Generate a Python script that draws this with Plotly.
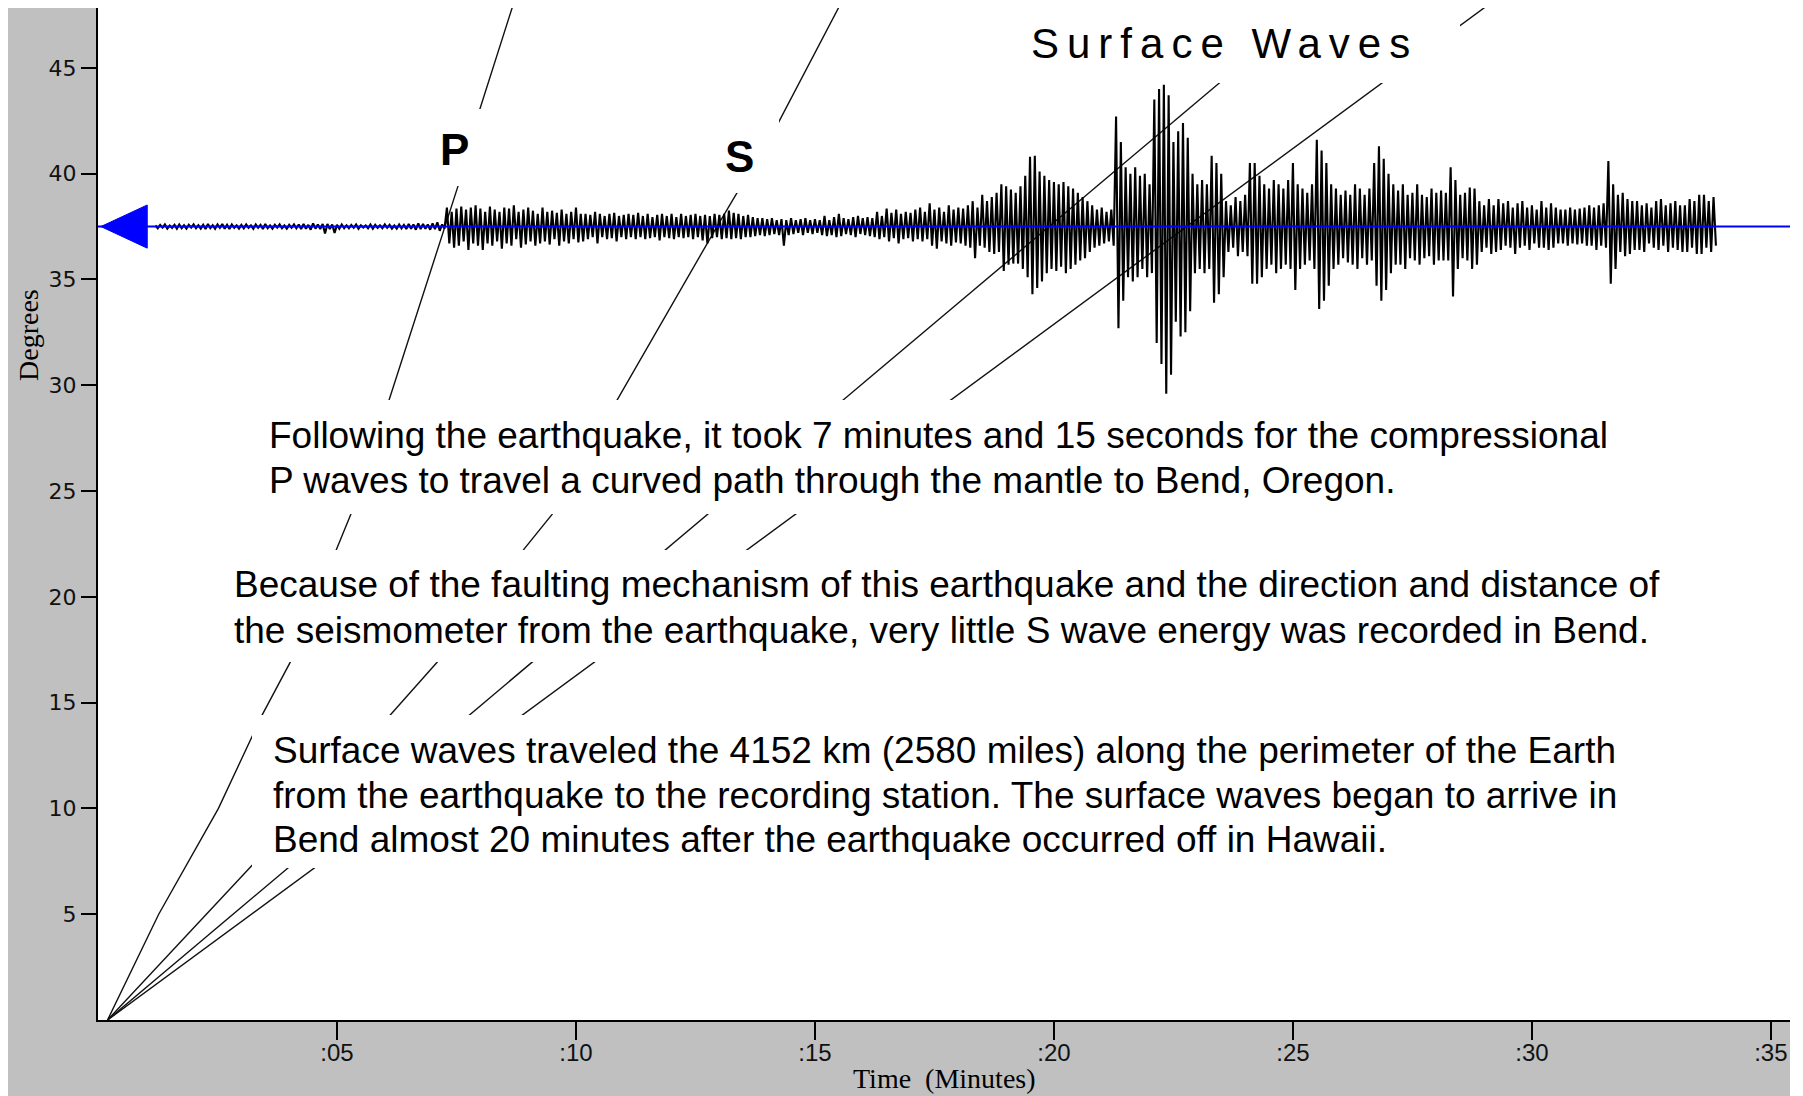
import plotly.graph_objects as go

# ---------------- data ----------------
station_distance_deg = 37.5          # Bend, Oregon distance from the epicentre
trace_start_min = 1.2
trace_step_min = 0.1
# seismogram, read per 0.1 min: upward swing and downward swing (degrees about the station line)
trace_peak = [
    0.05, 0.08, 0.1, 0.05, 0.08, 0.1, 0.06, 0.08, 0.1, 0.06,
    0.08, 0.12, 0.06, 0.1, 0.12, 0.08, 0.1, 0.06, 0.08, 0.1,
    0.06, 0.1, 0.08, 0.12, 0.05, 0.08, 0.1, 0.05, 0.08, 0.1,
    0.1, 0.12, 0.08, 0.15, 0.1, 0.12, 0.12, 0.1, 0.08, 0.1,
    0.06, 0.08, 0.1, 0.06, 0.05, 0.1, 0.08, 0.06, 0.1, 0.08,
    0.05, 0.1, 0.08, 0.12, 0.1, 0.15, 0.12, 0.1, 0.15, 0.2,
    0.1, 0.9, 0.7, 0.85, 0.95, 0.8, 0.9, 1.0, 0.85, 0.7,
    0.95, 0.8, 0.7, 0.9, 0.85, 1.0, 0.7, 0.8, 0.9, 0.75,
    0.6, 0.9, 0.7, 0.75, 0.65, 0.8, 0.6, 0.7, 0.9, 0.6,
    0.6, 0.55, 0.7, 0.6, 0.5, 0.6, 0.65, 0.5, 0.55, 0.6,
    0.55, 0.65, 0.5, 0.6, 0.45, 0.55, 0.6, 0.5, 0.6, 0.45,
    0.6, 0.5, 0.55, 0.6, 0.5, 0.55, 0.5, 0.6, 0.55, 0.6,
    0.75, 0.65, 0.6, 0.5, 0.55, 0.45, 0.4, 0.4, 0.35, 0.4,
    0.3, 0.35, 0.3, 0.4, 0.3, 0.35, 0.4, 0.3, 0.35, 0.3,
    0.5, 0.3, 0.45, 0.6, 0.4, 0.35, 0.45, 0.5, 0.4, 0.45,
    0.4, 0.7, 0.5, 0.85, 0.65, 0.8, 0.6, 0.7, 0.65, 0.8,
    0.9, 0.7, 1.1, 0.8, 0.9, 0.7, 1.0, 0.8, 0.9, 0.85,
    1.0, 1.2, 0.9, 1.5, 1.2, 1.4, 1.6, 2.0, 1.9, 1.75,
    1.6, 1.9, 2.4, 3.3, 3.35, 2.6, 2.4, 2.2, 2.1, 2.0,
    2.1, 1.9, 1.8, 1.6, 1.4, 1.2, 1.0, 0.8, 0.9, 0.7,
    0.8, 5.2, 4.0, 2.8, 2.5, 2.8, 2.4, 2.5, 2.0, 6.0,
    6.5, 6.7, 6.2, 4.0, 4.5, 4.9, 4.2, 2.5, 2.0, 2.2,
    2.0, 3.35, 3.0, 2.5, 1.2, 1.0, 1.4, 1.2, 1.5, 3.0,
    3.0, 2.4, 2.0, 1.8, 2.2, 2.0, 1.8, 2.2, 3.0, 2.0,
    1.8, 1.6, 2.0, 4.1, 3.6, 3.0, 2.0, 1.8, 1.5, 1.7,
    1.5, 2.0, 1.8, 1.5, 1.8, 3.0, 3.8, 3.2, 2.5, 2.0,
    1.7, 2.0, 1.5, 1.6, 2.0, 1.5, 1.4, 1.8, 1.6, 1.7,
    1.6, 2.8, 2.2, 1.5, 1.6, 1.85, 1.8, 1.2, 1.0, 1.3,
    1.0, 1.3, 1.1, 1.2, 0.9, 1.1, 1.2, 0.9, 1.0, 0.8,
    1.2, 0.9, 1.1, 0.9, 0.8, 0.8, 0.9, 0.8, 0.85, 0.9,
    1.0, 0.9, 1.0, 1.1, 3.1, 2.0, 1.5, 1.6, 1.3, 1.2,
    1.2, 1.0, 1.1, 0.9, 1.2, 1.3, 1.0, 1.1, 1.2, 1.0,
    1.0, 1.3, 1.2, 1.5, 1.5, 1.2, 1.4,
]
trace_trough = [
    -0.08, -0.05, -0.1, -0.06, -0.1, -0.08, -0.1, -0.05, -0.08, -0.1,
    -0.12, -0.08, -0.1, -0.06, -0.1, -0.12, -0.06, -0.1, -0.08, -0.06,
    -0.1, -0.06, -0.12, -0.08, -0.1, -0.05, -0.08, -0.1, -0.06, -0.08,
    -0.12, -0.1, -0.15, -0.1, -0.12, -0.33, -0.12, -0.3, -0.1, -0.08,
    -0.08, -0.06, -0.1, -0.05, -0.08, -0.1, -0.06, -0.08, -0.06, -0.1,
    -0.1, -0.08, -0.12, -0.1, -0.15, -0.12, -0.1, -0.15, -0.12, -0.2,
    -0.1, -0.8, -1.0, -0.9, -0.7, -1.1, -0.8, -0.9, -1.1, -0.8,
    -0.9, -0.7, -1.05, -0.8, -0.9, -0.6, -1.0, -0.85, -0.7, -0.9,
    -0.8, -0.7, -0.85, -0.6, -0.9, -0.7, -0.8, -0.6, -0.75, -0.7,
    -0.6, -0.5, -0.8, -0.5, -0.6, -0.55, -0.7, -0.5, -0.6, -0.5,
    -0.6, -0.5, -0.6, -0.55, -0.5, -0.65, -0.5, -0.55, -0.6, -0.5,
    -0.55, -0.5, -0.6, -0.5, -0.65, -0.8, -0.55, -0.5, -0.6, -0.55,
    -0.6, -0.55, -0.6, -0.5, -0.5, -0.45, -0.4, -0.45, -0.4, -0.35,
    -0.4, -0.9, -0.4, -0.35, -0.3, -0.4, -0.3, -0.35, -0.3, -0.4,
    -0.45, -0.4, -0.5, -0.45, -0.35, -0.4, -0.5, -0.35, -0.4, -0.45,
    -0.5, -0.6, -0.5, -0.7, -0.55, -0.8, -0.6, -0.55, -0.7, -0.6,
    -0.7, -0.6, -0.9, -1.05, -0.7, -0.8, -0.9, -0.75, -0.8, -0.9,
    -1.0, -1.5, -0.9, -1.0, -1.2, -1.3, -1.2, -2.1, -1.8, -1.75,
    -1.75, -2.0, -2.4, -3.2, -2.9, -2.6, -2.2, -2.0, -2.1, -1.9,
    -2.2, -2.0, -1.8, -1.6, -1.5, -1.2, -1.0, -0.9, -0.8, -0.7,
    -0.9, -4.8, -3.5, -2.4, -2.6, -2.4, -2.0, -2.4, -2.2, -5.5,
    -6.5, -7.9, -7.0, -4.5, -5.2, -5.0, -4.0, -2.2, -2.0, -2.2,
    -2.0, -3.6, -3.2, -2.4, -1.2, -1.0, -1.4, -1.2, -1.4, -2.7,
    -2.7, -2.4, -2.0, -1.8, -2.2, -2.0, -1.8, -2.0, -3.0, -2.0,
    -1.8, -1.6, -2.0, -3.9, -3.5, -2.8, -2.0, -1.8, -1.5, -1.7,
    -1.8, -2.0, -1.5, -1.8, -1.6, -2.8, -3.5, -3.0, -2.2, -1.8,
    -1.8, -2.0, -1.5, -1.6, -1.8, -1.5, -1.4, -1.8, -1.6, -1.6,
    -1.6, -3.3, -2.0, -1.5, -1.6, -2.0, -1.8, -1.2, -1.0, -1.3,
    -1.2, -1.1, -0.9, -1.0, -1.3, -1.0, -0.9, -1.1, -0.8, -1.0,
    -1.0, -1.1, -1.0, -0.8, -0.8, -0.9, -0.8, -0.85, -0.8, -0.9,
    -0.9, -1.1, -0.9, -1.0, -2.7, -2.0, -1.2, -1.4, -1.3, -1.1,
    -1.1, -1.2, -0.8, -1.0, -1.1, -0.9, -1.2, -1.0, -1.1, -1.2,
    -1.2, -1.0, -1.3, -1.3, -1.0, -1.2, -0.9,
]

# travel-time curves (minutes, degrees)
p_time = [0.2, 1.27, 2.52, 3.43, 4.02, 5.29, 6.09, 7.25, 7.53, 7.99, 8.66, 8.73]
p_deg = [0, 5, 10, 14.4, 16.9, 23.9, 29.3, 37.5, 39.4, 43.06, 47.8, 48.3]
s_time = [0.2, 3.22, 6.11, 7.09, 8.93, 9.5, 10.86, 12.95, 14.2, 15.5, 15.6]
s_deg = [0, 7.3, 14.4, 16.9, 22.3, 23.9, 29.3, 37.5, 42.26, 47.8, 48.3]
surf1_time = [0.2, 25.57]
surf1_deg = [0, 48.3]
surf2_time = [0.2, 29.28]
surf2_deg = [0, 48.3]

x_tick_vals = [5, 10, 15, 20, 25, 30, 35]
x_tick_text = [":05", ":10", ":15", ":20", ":25", ":30", ":35"]
y_tick_vals = [5, 10, 15, 20, 25, 30, 35, 40, 45]
y_tick_text = ["5", "10", "15", "20", "25", "30", "35", "40", "45"]
x_range = [0, 35.4]
y_range = [0, 47.83]

# station arrow (minutes for tip/base, degrees half-height)
arrow_tip_min, arrow_base_min, arrow_half_deg = 0.06, 1.03, 1.02

# ---------------- figure ----------------
# the page body adds an 8px offset; the figure is sized so that the result lines up
W, H = 1795, 1088
OFF = 8
PLOT_L, PLOT_R, PLOT_T, PLOT_B = 98, 1790, 8, 1020       # page pixels
ML, MR, MT, MB = PLOT_L - OFF, W - (PLOT_R - OFF), PLOT_T - OFF, H - (PLOT_B - OFF)
PW, PH = PLOT_R - PLOT_L, PLOT_B - PLOT_T


def px(x):
    return (x - PLOT_L) / PW


def py(y):
    return (PLOT_B - y) / PH


# zig-zag: each 0.1-min sample swings up, then down half a step later
trace_time, trace_y = [], []
for i, (hi, lo) in enumerate(zip(trace_peak, trace_trough)):
    t = trace_start_min + i * trace_step_min
    trace_time += [t, t + trace_step_min / 2]
    trace_y += [station_distance_deg + hi, station_distance_deg + lo]

curve_style = dict(color="#111111", width=1.4)

fig = go.Figure()
for t, d in [(p_time, p_deg), (s_time, s_deg), (surf1_time, surf1_deg), (surf2_time, surf2_deg)]:
    fig.add_trace(go.Scatter(x=t, y=d, mode="lines", line=curve_style, hoverinfo="skip"))

fig.add_trace(go.Scatter(x=trace_time, y=trace_y, mode="lines",
                         line=dict(color="black", width=2.1), hoverinfo="skip"))
fig.add_trace(go.Scatter(x=x_range, y=[station_distance_deg] * 2, mode="lines",
                         line=dict(color="#0000FF", width=2), hoverinfo="skip"))

sans = "Liberation Sans, Arial, Helvetica, sans-serif"
serif = "Liberation Serif, Times New Roman, serif"

annotations = []
shapes = []


def white_box(x0, y0, x1, y1):
    shapes.append(dict(type="rect", xref="paper", yref="paper",
                       x0=px(x0), x1=px(x1), y0=py(y1), y1=py(y0),
                       fillcolor="white", line=dict(width=0), layer="above"))


def text_line(text, x, y, size=37, xanchor="left"):
    annotations.append(dict(text=text, xref="paper", yref="paper", x=px(x), y=py(y),
                            xanchor=xanchor, yanchor="middle", showarrow=False,
                            font=dict(family=sans, size=size, color="black")))


# text panels (white boxes hide the travel-time curves behind them)
white_box(256, 400, 1625, 514)
text_line("Following the earthquake, it took 7 minutes and 15 seconds for the compressional", 267, 435)
text_line("P waves to travel a curved path through the mantle to Bend, Oregon.", 267, 480)

white_box(221, 550, 1678, 662)
text_line("Because of the faulting mechanism of this earthquake and the direction and distance of", 232, 585)
text_line("the seismometer from the earthquake, very little S wave energy was recorded in Bend.", 232, 630)

white_box(252, 715, 1640, 868)
text_line("Surface waves traveled the 4152 km (2580 miles) along the perimeter of the Earth", 271, 750)
text_line("from the earthquake to the recording station. The surface waves began to arrive in", 271, 795)
text_line("Bend almost 20 minutes after the earthquake occurred off in Hawaii.", 271, 839)

white_box(985, 0, 1460, 83)
text_line('<span style="letter-spacing:8px">Surface Waves</span>', 1224, 43, size=42, xanchor="center")

white_box(422, 109, 486, 186)
text_line("<b>P</b>", 454, 150, size=44, xanchor="center")
white_box(699, 120, 779, 193)
text_line("<b>S</b>", 739, 156, size=44, xanchor="center")

# station arrow
shapes.append(dict(type="path", xref="x", yref="y", layer="above",
                   path=(f"M {arrow_tip_min},{station_distance_deg} "
                         f"L {arrow_base_min},{station_distance_deg + arrow_half_deg} "
                         f"L {arrow_base_min},{station_distance_deg - arrow_half_deg} Z"),
                   fillcolor="#0000FF", line=dict(color="#0000FF", width=1)))

# white strip right of the plot
shapes.append(dict(type="rect", xref="paper", yref="paper", x0=1, x1=px(1810),
                   y0=py(1100), y1=py(0), fillcolor="white", line=dict(width=0), layer="below"))

# axis titles
annotations.append(dict(text="Time  (Minutes)", xref="paper", yref="paper",
                        x=0.5, y=py(1096), xanchor="center", yanchor="bottom",
                        showarrow=False, font=dict(family=serif, size=28, color="black")))
annotations.append(dict(text="Degrees", xref="paper", yref="paper", textangle=-90,
                        x=px(28), y=py(335), xanchor="center", yanchor="middle",
                        showarrow=False, font=dict(family=serif, size=28, color="black")))

fig.update_layout(
    width=W, height=H,
    margin=dict(l=ML, r=MR, t=MT, b=MB, pad=0),
    paper_bgcolor="#C0C0C0", plot_bgcolor="white",
    showlegend=False,
    annotations=annotations, shapes=shapes,
    xaxis=dict(range=x_range, tickvals=x_tick_vals, ticktext=x_tick_text,
               showgrid=False, zeroline=False, showline=True, linecolor="black", linewidth=2,
               ticks="outside", ticklen=18, tickwidth=2, tickcolor="black",
               ticklabelstandoff=-8,
               tickfont=dict(family=sans, size=24, color="#111111")),
    yaxis=dict(range=y_range, tickvals=y_tick_vals, ticktext=y_tick_text,
               showgrid=False, zeroline=False, showline=True, linecolor="black", linewidth=2,
               ticks="outside", ticklen=15, tickwidth=2, tickcolor="black",
               tickfont=dict(family="DejaVu Sans, sans-serif", size=22, color="#111111")),
)

fig.write_html("out.html")
